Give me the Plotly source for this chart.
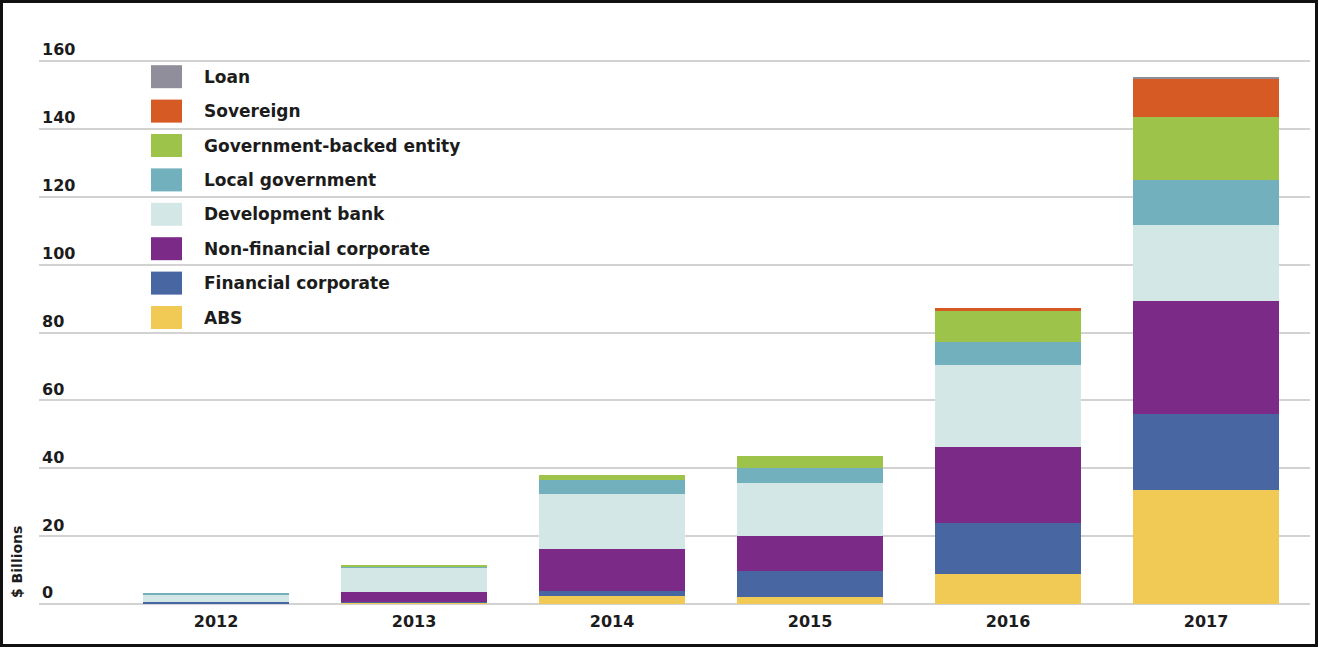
import plotly.graph_objects as go

# Issuance by issuer type, $ billions
years = ["2012", "2013", "2014", "2015", "2016", "2017"]
abs_vals = [0.0, 0.4, 2.5, 2.0, 8.7, 33.5]
financial_corporate = [0.5, 0.2, 1.4, 7.6, 15.2, 22.4]
non_financial_corporate = [0.0, 2.9, 12.3, 10.4, 22.4, 33.5]
development_bank = [2.3, 7.4, 16.2, 15.8, 24.1, 22.3]
local_government = [0.4, 0.2, 4.2, 4.4, 6.9, 13.1]
government_backed = [0.0, 0.5, 1.5, 3.3, 9.1, 18.7]
sovereign = [0.0, 0.0, 0.0, 0.0, 0.8, 11.4]
loan = [0.0, 0.0, 0.0, 0.0, 0.0, 0.5]
y_ticks = [0, 20, 40, 60, 80, 100, 120, 140, 160]

# stacking order bottom -> top
series = [
    ("ABS", abs_vals, "#f1c955"),
    ("Financial corporate", financial_corporate, "#4766a2"),
    ("Non-financial corporate", non_financial_corporate, "#7b2a88"),
    ("Development bank", development_bank, "#d3e8e6"),
    ("Local government", local_government, "#72b0bd"),
    ("Government-backed entity", government_backed, "#9dc34a"),
    ("Sovereign", sovereign, "#d65a24"),
    ("Loan", loan, "#908e9b"),
]

W, H = 1319, 647
PX_PER_UNIT = 543 / 160.0
HEADROOM = 26  # px above the 160 gridline, leaves space for its label
L, R, T, B = 39, 9, 61 - HEADROOM, 43
PW, PH = W - L - R, H - T - B
Y_TOP = 160 + HEADROOM / PX_PER_UNIT

FONT = "DejaVu Sans"
TXT = "#1c1c1c"

fig = go.Figure()
for name, vals, col in series:
    fig.add_trace(go.Bar(
        x=years, y=vals, name=name,
        marker=dict(color=col, line=dict(width=0)),
        showlegend=False,
    ))


def px_x(px):
    return (px - L) / PW


def px_y(py):
    return (H - B - py) / PH


shapes = []
annotations = []

# legend, top entry first
row_y0 = 76.7
row_step = 34.4
for i, (name, vals, col) in enumerate(reversed(series)):
    cy = row_y0 + i * row_step
    shapes.append(dict(
        type="rect", xref="paper", yref="paper",
        x0=px_x(151), x1=px_x(182), y0=px_y(cy + 11.5), y1=px_y(cy - 11.5),
        fillcolor=col, line=dict(width=0), layer="above",
    ))
    annotations.append(dict(
        xref="paper", yref="paper", x=px_x(202), y=px_y(cy),
        xanchor="left", yanchor="middle", showarrow=False, text=name,
        font=dict(family=FONT, size=17, color=TXT, weight="bold"),
    ))

# axis title
annotations.append(dict(
    xref="paper", yref="paper", x=px_x(17), y=px_y(562),
    xanchor="center", yanchor="middle", showarrow=False, textangle=-90,
    text="$ Billions", font=dict(family=FONT, size=14, color=TXT, weight="bold"),
))

# outer frame
shapes.append(dict(
    type="rect", xref="paper", yref="paper",
    x0=px_x(1.5), x1=px_x(W - 2.5), y0=px_y(H - 1.5), y1=px_y(1.5),
    line=dict(color="#111111", width=3), fillcolor="rgba(0,0,0,0)", layer="above",
))

fig.update_layout(
    width=W, height=H,
    margin=dict(l=L, r=R, t=T, b=B, pad=0),
    paper_bgcolor="white", plot_bgcolor="white",
    barmode="stack", bargap=0.263,
    shapes=shapes, annotations=annotations,
    font=dict(family=FONT, color=TXT),
)
fig.update_xaxes(
    type="category", range=[-0.894, 5.525],
    showgrid=False, showline=False, ticks="", zeroline=False,
    ticklabelstandoff=6,
    tickfont=dict(family=FONT, size=16, color=TXT, weight="bold"),
    fixedrange=True,
)
fig.update_yaxes(
    range=[0, Y_TOP], tickvals=y_ticks, ticktext=[str(v) for v in y_ticks],
    showgrid=True, gridcolor="#d2d2d2", gridwidth=1.5,
    zeroline=True, zerolinecolor="#d2d2d2", zerolinewidth=1.5,
    showline=False, ticks="",
    ticklabelposition="inside top", ticklabelstandoff=0,
    tickfont=dict(family=FONT, size=16, color=TXT, weight="bold"),
    fixedrange=True,
)

fig.write_html("out.html")
